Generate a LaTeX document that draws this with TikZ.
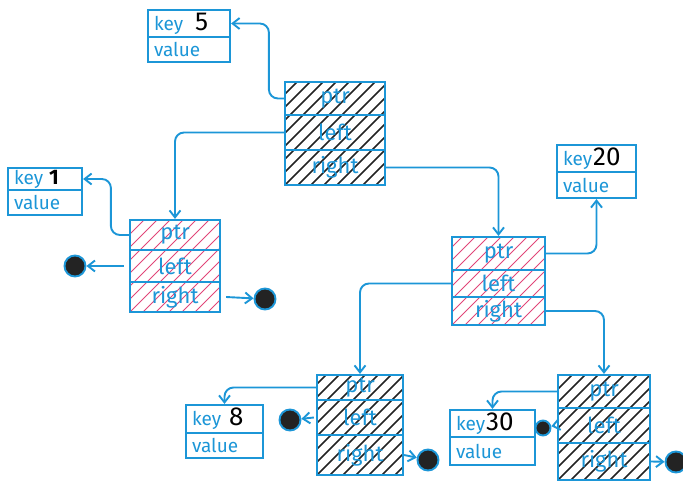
\documentclass[tikz,border=0pt]{standalone}
\usepackage{fontspec}
\setmainfont{Fira Sans}
\usetikzlibrary{arrows.meta}
\definecolor{pen}{RGB}{28,150,215}
\definecolor{hred}{RGB}{225,70,120}
\definecolor{hblk}{RGB}{35,35,35}
\newcommand\hatchbox[5]{%
  \begin{scope}
    \clip (#1,#2) rectangle (#3,#4);
    \foreach \i in {0,13,...,264} \draw[#5] (#1+\i-130,#4) -- ++(130,-130);
  \end{scope}}
\tikzset{
  cell/.style={draw=pen, line width=2.2pt, text=pen, font=\fontsize{22}{22}\selectfont, inner sep=0pt},
  kcell/.style={draw=pen, line width=2.2pt, text=pen, font=\fontsize{19}{19}\selectfont, align=left, inner xsep=6pt, inner ysep=0pt},
  arr/.style={draw=pen, line width=1.9pt, -{Straight Barb[length=7pt,width=11pt]}, rounded corners=9pt},
  nil/.style={circle, draw=pen, line width=1.9pt, fill=hblk, minimum size=21pt, inner sep=0pt},
  redh/.style={hred, line width=0.9pt},
  blkh/.style={hblk, line width=1.6pt}
}
\newcommand\knum[1]{{\fontsize{26}{26}\selectfont\color{black}#1}}
\begin{document}
\begin{tikzpicture}[x=1pt,y=-1pt]
\useasboundingbox (0,0) rectangle (683,495);
% hatching
\hatchbox{285}{82}{385}{185}{blkh}
\hatchbox{130}{220}{220}{312}{redh}
\hatchbox{452}{237}{545}{325}{redh}
\hatchbox{317}{375}{403}{475}{blkh}
\hatchbox{558}{375}{650}{480}{blkh}
% root
\node[cell, minimum width=100pt, minimum height=33pt] (rptr) at (335,98.5) {ptr};
\node[cell, minimum width=100pt, minimum height=35pt] (rleft) at (335,132.5) {left};
\node[cell, minimum width=100pt, minimum height=35pt] (rright) at (335,167.5) {right};
% node 1
\node[cell, minimum width=90pt, minimum height=30pt] (aptr) at (175,235) {ptr};
\node[cell, minimum width=90pt, minimum height=32pt] (aleft) at (175,266) {left};
\node[cell, minimum width=90pt, minimum height=30pt] (aright) at (175,297) {right};
% node 20
\node[cell, minimum width=93pt, minimum height=33pt] (bptr) at (498.5,253.5) {ptr};
\node[cell, minimum width=93pt, minimum height=27pt] (bleft) at (498.5,283.5) {left};
\node[cell, minimum width=93pt, minimum height=28pt] (bright) at (498.5,311) {right};
% node 8
\node[cell, minimum width=86pt, minimum height=25pt] (cptr) at (360,387.5) {ptr};
\node[cell, minimum width=86pt, minimum height=35pt] (cleft) at (360,417.5) {left};
\node[cell, minimum width=86pt, minimum height=40pt] (cright) at (360,455) {right};
% node 30
\node[cell, minimum width=92pt, minimum height=33pt] (dptr) at (604,391.5) {ptr};
\node[cell, minimum width=92pt, minimum height=35pt] (dleft) at (604,425.5) {left};
\node[cell, minimum width=92pt, minimum height=37pt] (dright) at (604,461.5) {right};
% key boxes
\node[kcell, text width=70pt, minimum height=27pt] (k5key) at (189,23.5) {key\hspace{12pt}\knum{5}};
\node[kcell, text width=70pt, minimum height=25pt] (k5val) at (189,49.5) {value};
\node[kcell, text width=62pt, minimum height=22pt] (k1key) at (45,179) {key\hspace{6pt}{\fontsize{21}{21}\selectfont\bfseries\color{black}1}};
\node[kcell, text width=62pt, minimum height=25pt] (k1val) at (45,202.5) {value};
\node[kcell, text width=67pt, minimum height=27pt] (k20key) at (596.5,158.5) {key\hspace{1pt}\knum{20}};
\node[kcell, text width=67pt, minimum height=26pt] (k20val) at (596.5,185) {value};
\node[kcell, text width=65pt, minimum height=28pt] (k8key) at (224.5,419) {key\hspace{8pt}\knum{8}};
\node[kcell, text width=65pt, minimum height=25pt] (k8val) at (224.5,445.5) {value};
\node[kcell, text width=73pt, minimum height=27pt] (k30key) at (492.5,423.5) {key\hspace{1pt}\knum{30}};
\node[kcell, text width=73pt, minimum height=28pt] (k30val) at (492.5,451) {value};
% nil circles
\node[nil] (nA) at (75,266) {};
\node[nil] (nB) at (265,299) {};
\node[nil] (nC) at (290,420) {};
\node[nil] (nD) at (428,460) {};
\node[nil, minimum size=15pt] (nE) at (543,428) {};
\node[nil] (nF) at (676,462) {};
% connectors
\draw[arr] (rptr.west) -- ++(-15,0) |- (k5key.east);
\draw[arr] (rleft.west) -| (aptr.north);
\draw[arr] (rright.east) -| (bptr.north);
\draw[arr] (aptr.west) -- ++(-18,0) |- (k1key.east);
\draw[arr] ([xshift=-5pt]aleft.west) -- (nA);
\draw[arr] ([xshift=5pt]aright.east) -- (nB);
\draw[arr] (bptr.east) -| (k20val.south);
\draw[arr] (bleft.west) -| (cptr.north);
\draw[arr] (bright.east) -| (dptr.north);
\draw[arr] (cptr.west) -| (k8key.north);
\draw[arr] ([xshift=-2pt]cleft.west) -- (nC);
\draw[arr] (cright.east) -- (nD);
\draw[arr] (dptr.west) -| (k30key.north);
\draw[arr] ([xshift=-2pt]dleft.west) -- (nE);
\draw[arr] (dright.east) -- (nF);
\end{tikzpicture}
\end{document}
